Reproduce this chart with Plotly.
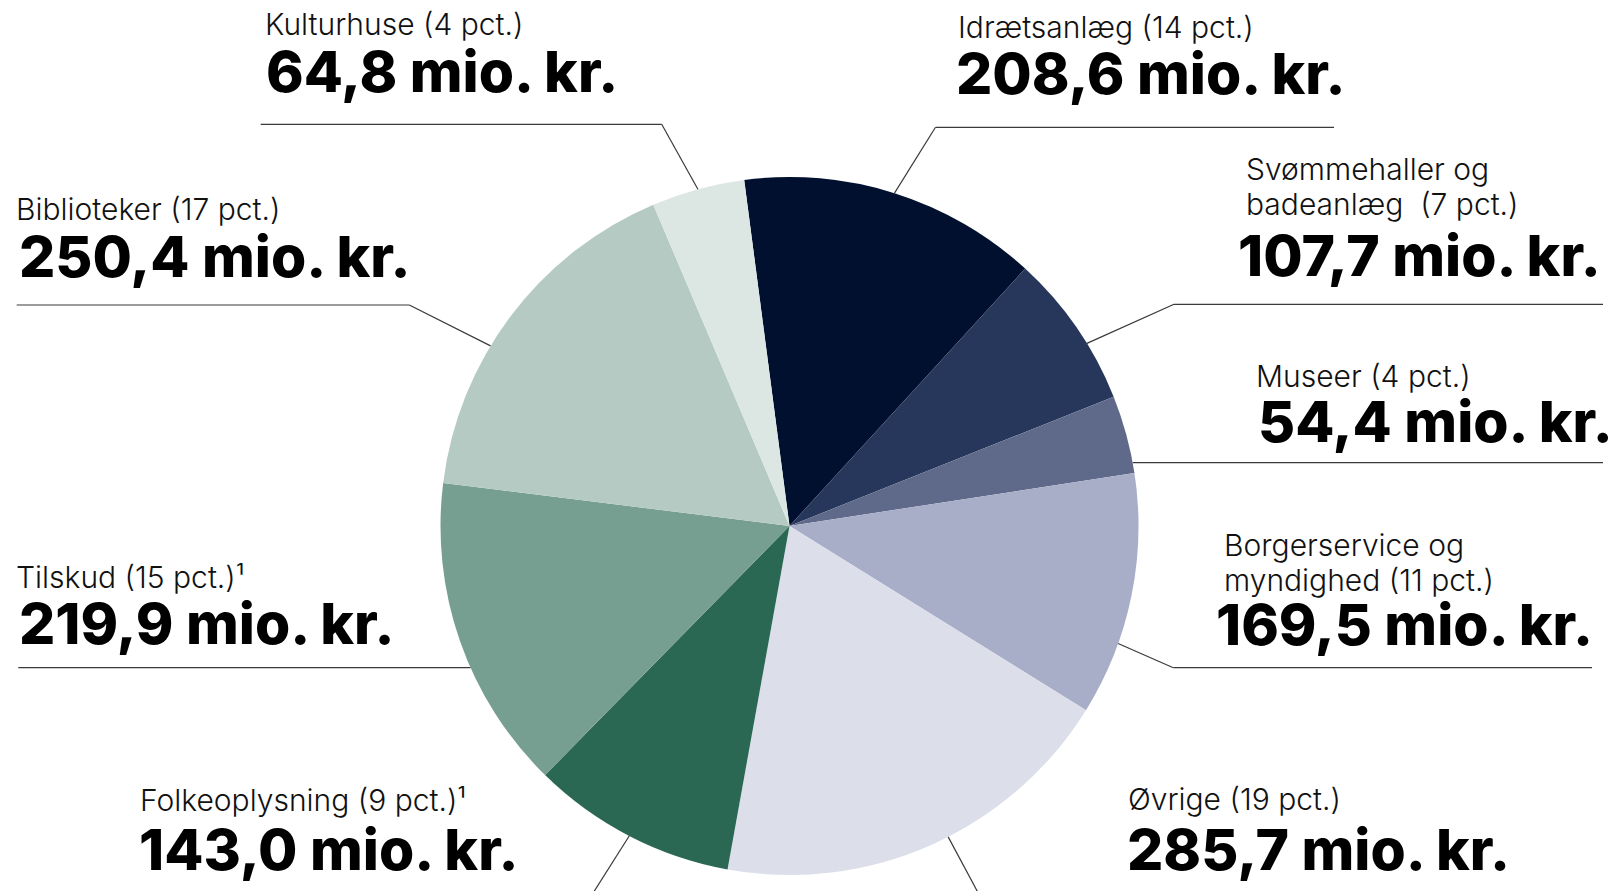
import math
import plotly.graph_objects as go

# ---------------- data ----------------
categories = ["Idrætsanlæg", "Svømmehaller og badeanlæg", "Museer", "Borgerservice og myndighed",
              "Øvrige", "Folkeoplysning", "Tilskud", "Biblioteker", "Kulturhuse"]
values = [208.6, 107.7, 54.4, 169.5, 285.7, 143.0, 219.9, 250.4, 64.8]
pct = [14, 7, 4, 11, 19, 9, 15, 17, 4]
label_lines = [["Idrætsanlæg (14 pct.)"], ["Svømmehaller og", "badeanlæg  (7 pct.)"], ["Museer (4 pct.)"],
               ["Borgerservice og", "myndighed (11 pct.)"], ["Øvrige (19 pct.)"], ["Folkeoplysning (9 pct.)¹"],
               ["Tilskud (15 pct.)¹"], ["Biblioteker (17 pct.)"], ["Kulturhuse (4 pct.)"]]
value_text = ["208,6 mio. kr.", "107,7 mio. kr.", "54,4 mio. kr.", "169,5 mio. kr.", "285,7 mio. kr.",
              "143,0 mio. kr.", "219,9 mio. kr.", "250,4 mio. kr.", "64,8 mio. kr."]
colors = ["#00102e", "#26375b", "#5f6a8b", "#a9aec8", "#dcdfea", "#2a6853", "#769e91", "#b4cac2", "#dce7e3"]

# ---------------- layout constants ----------------
W, H = 1612, 891
CX, CY, R = 789.5, 526.0, 349.0
ROT = -7.46
SMALL, BIG = 30, 57

# label positions: x of small text, y centers of small lines, x of number, y center of number
label_pos = [
    dict(sx=956, sy=[27], nx=954, ny=73),
    dict(sx=1244, sy=[169, 204], nx=1236, ny=255),
    dict(sx=1254, sy=[376], nx=1256, ny=421),
    dict(sx=1222, sy=[545, 580], nx=1214, ny=624),
    dict(sx=1126, sy=[799], nx=1125, ny=849),
    dict(sx=138, sy=[800], nx=137, ny=849),
    dict(sx=14, sy=[577], nx=17, ny=623),
    dict(sx=14, sy=[209], nx=17, ny=256),
    dict(sx=263, sy=[24], nx=264, ny=71),
]
leaders = [
    dict(frac=0.5, elbow=(935.5, 127.3), end=1334),
    dict(frac=0.62, elbow=(1174, 304.3), end=1603),
    dict(hy=462.7, side=1, end=1603),
    dict(frac=0.70, elbow=(1173.3, 667.7), end=1592),
    dict(frac=0.455, elbow=(990, 915), end=None),
    dict(frac=0.5, elbow=(576, 920), end=None),
    dict(hy=667.7, side=-1, end=18.3),
    dict(frac=0.40, elbow=(409.3, 305.0), end=16.7),
    dict(frac=0.5, elbow=(661.7, 124.3), end=260.7),
]

fig = go.Figure()
fig.add_trace(go.Pie(
    labels=categories, values=values, sort=False, direction="clockwise", rotation=ROT,
    marker=dict(colors=colors, line=dict(width=0)), textinfo="none", showlegend=False,
    domain=dict(x=[(CX - R) / W, (CX + R) / W], y=[1 - (CY + R) / H, 1 - (CY - R) / H]),
    hovertemplate="%{label}: %{value} mio. kr.<extra></extra>",
))

total = sum(values)
shapes = []
annotations = []
cum = ROT
line_style = dict(color="#3a3a3a", width=1.2)
for i, v in enumerate(values):
    span = v / total * 360.0
    ld = leaders[i]
    if "hy" in ld:
        y0 = ld["hy"]
        x0 = CX + ld["side"] * math.sqrt(R * R - (y0 - CY) ** 2)
        shapes.append(dict(type="line", xref="x", yref="y", x0=x0, y0=y0, x1=ld["end"], y1=y0, line=line_style))
    else:
        a = math.radians(cum + ld["frac"] * span)
        ax, ay = CX + R * math.sin(a), CY - R * math.cos(a)
        ex, ey = ld["elbow"]
        shapes.append(dict(type="line", xref="x", yref="y", x0=ax, y0=ay, x1=ex, y1=ey, line=line_style))
        if ld["end"] is not None:
            shapes.append(dict(type="line", xref="x", yref="y", x0=ex, y0=ey, x1=ld["end"], y1=ey, line=line_style))
    cum += span

    p = label_pos[i]
    for txt, yy in zip(label_lines[i], p["sy"]):
        annotations.append(dict(x=p["sx"], y=yy, xref="x", yref="y", text=txt, showarrow=False,
                                xanchor="left", yanchor="middle", align="left",
                                font=dict(family="Inter", size=SMALL, color="#111111", weight=300)))
    annotations.append(dict(x=p["nx"], y=p["ny"], xref="x", yref="y", text=value_text[i], showarrow=False,
                            xanchor="left", yanchor="middle", align="left",
                            font=dict(family="Inter", size=BIG, color="#000000", weight=800)))

fig.update_layout(
    width=W, height=H, margin=dict(l=0, r=0, t=0, b=0),
    paper_bgcolor="white", plot_bgcolor="rgba(0,0,0,0)",
    xaxis=dict(range=[0, W], visible=False, fixedrange=True),
    yaxis=dict(range=[H, 0], visible=False, fixedrange=True),
    shapes=shapes, annotations=annotations,
)
fig.write_html("out.html", config={"displayModeBar": False},
               post_script="document.body.style.margin='0';document.body.style.overflow='hidden';")
